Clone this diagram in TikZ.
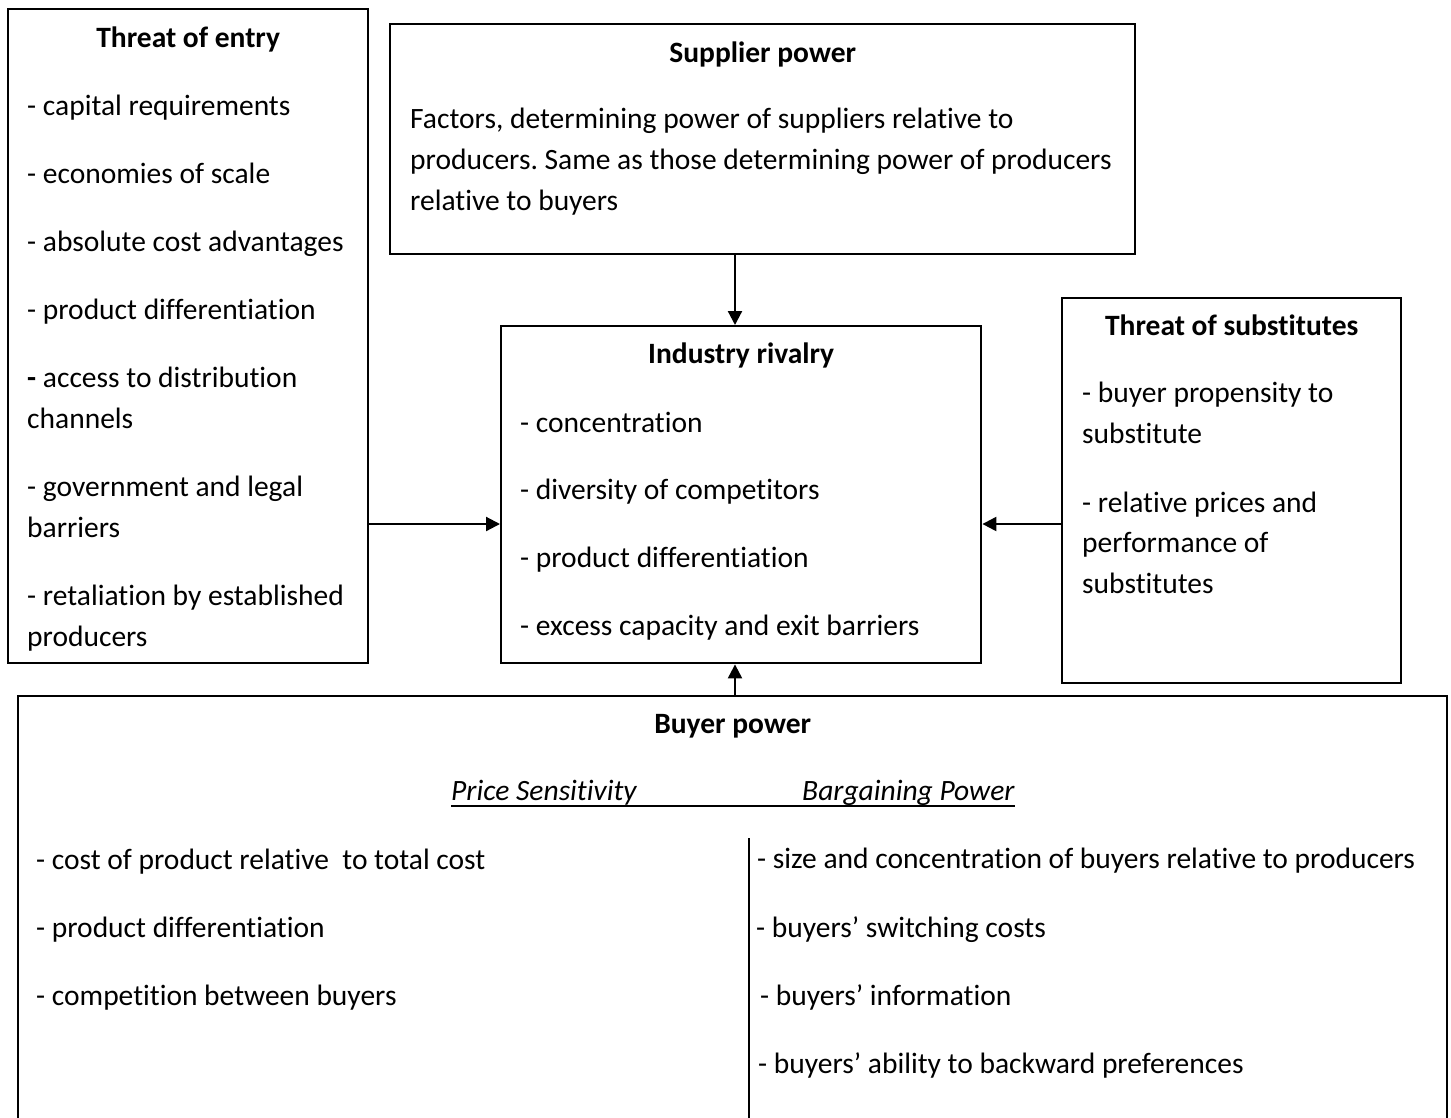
\documentclass[tikz,border=0pt]{standalone}
\usepackage{fontspec}
\setmainfont{Carlito}[Ligatures={NoCommon}]
\usetikzlibrary{arrows.meta,calc}
\frenchspacing

\tikzset{
  box/.style={draw=black, line width=2.4pt, inner sep=0pt, anchor=north west},
  txt/.style={inner sep=0pt, anchor=base west, font=\fontsize{29.5}{35}\selectfont},
  ttl/.style={inner sep=0pt, anchor=base, font=\fontsize{29.5}{35}\selectfont\bfseries},
  itl/.style={inner sep=0pt, anchor=base west, font=\fontsize{29.5}{35}\selectfont\itshape},
  link/.style={line width=2.2pt, -{Triangle[length=14pt,width=14pt]}},
}

\begin{document}
\begin{tikzpicture}[x=1pt, y=-1pt]
\useasboundingbox[fill=white] (0,0) rectangle (1451,1117);
\clip (0,0) rectangle (1451,1117);

% ---- boxes ----
\node[box, minimum width=360, minimum height=654] (teo) at (7,8) {};
\node[box, minimum width=745, minimum height=230] (sup) at (389,23) {};
\node[box, minimum width=480, minimum height=337] (riv) at (500,325) {};
\node[box, minimum width=339, minimum height=385] (sub) at (1061,297) {};
\node[box, minimum width=1429, minimum height=460] (buy) at (17,695) {};

% ---- Threat of entry ----
\node[ttl] at (teo.north |- 0,47) {Threat of entry};
\node[txt] at (27,115) {- capital requirements};
\node[txt] at (27,183) {- economies of scale};
\node[txt] at (27,251) {- absolute cost advantages};
\node[txt] at (27,319) {- product differentiation};
\node[txt] at (27,387) {\textbf{-} access to distribution};
\node[txt] at (27,428) {channels};
\node[txt] at (27,496) {- government and legal};
\node[txt] at (27,537) {barriers};
\node[txt] at (27,605) {- retaliation by established};
\node[txt] at (27,646) {producers};

% ---- Supplier power ----
\node[ttl] at (sup.north |- 0,62) {Supplier power};
\node[txt] at (410,128) {Factors, determining power of suppliers relative to};
\node[txt] at (410,169) {producers. Same as those determining power of producers};
\node[txt] at (410,210) {relative to buyers};

% ---- Industry rivalry ----
\node[ttl] at (riv.north |- 0,363) {Industry rivalry};
\node[txt] at (520,432) {- concentration};
\node[txt] at (520,499) {- diversity of competitors};
\node[txt] at (520,567) {- product differentiation};
\node[txt] at (520,635) {- excess capacity and exit barriers};

% ---- Threat of substitutes ----
\node[ttl] at (sub.north |- 0,335) {Threat of substitutes};
\node[txt] at (1082,402) {- buyer propensity to};
\node[txt] at (1082,443) {substitute};
\node[txt] at (1082,512) {- relative prices and};
\node[txt] at (1082,552) {performance of};
\node[txt] at (1082,593) {substitutes};

% ---- Buyer power ----
\node[ttl] at (buy.north |- 0,733) {Buyer power};
\node[itl] (ps) at (451,800) {Price Sensitivity};
\node[itl] (bp) at (802,800) {Bargaining Power};
\draw[line width=1.6pt] ($(ps.base west)+(0,6)$) -- ($(bp.base east)+(0,6)$);

\coordinate (divtop) at (749,838);
\draw[line width=1.6pt] (divtop) -- (divtop |- buy.south);

\node[txt] at (36,869) {- cost of product relative\ \ to total cost};
\node[txt] at (36,937) {- product differentiation};
\node[txt] at (36,1005) {- competition between buyers};

\node[txt] at (757,868) {- size and concentration of buyers relative to producers};
\node[txt] at (756,937) {- buyers’ switching costs};
\node[txt] at (760,1005) {- buyers’ information};
\node[txt] at (758,1073) {- buyers’ ability to backward preferences};

% ---- connectors ----
\coordinate (ax) at (735,0);
\coordinate (ay) at (0,524);
\draw[link] (sup.south -| ax) -- (riv.north -| ax);
\draw[link] (buy.north -| ax) -- (riv.south -| ax);
\draw[link] (teo.east |- ay) -- (riv.west |- ay);
\draw[link] (sub.west |- ay) -- (riv.east |- ay);
\end{tikzpicture}
\end{document}
